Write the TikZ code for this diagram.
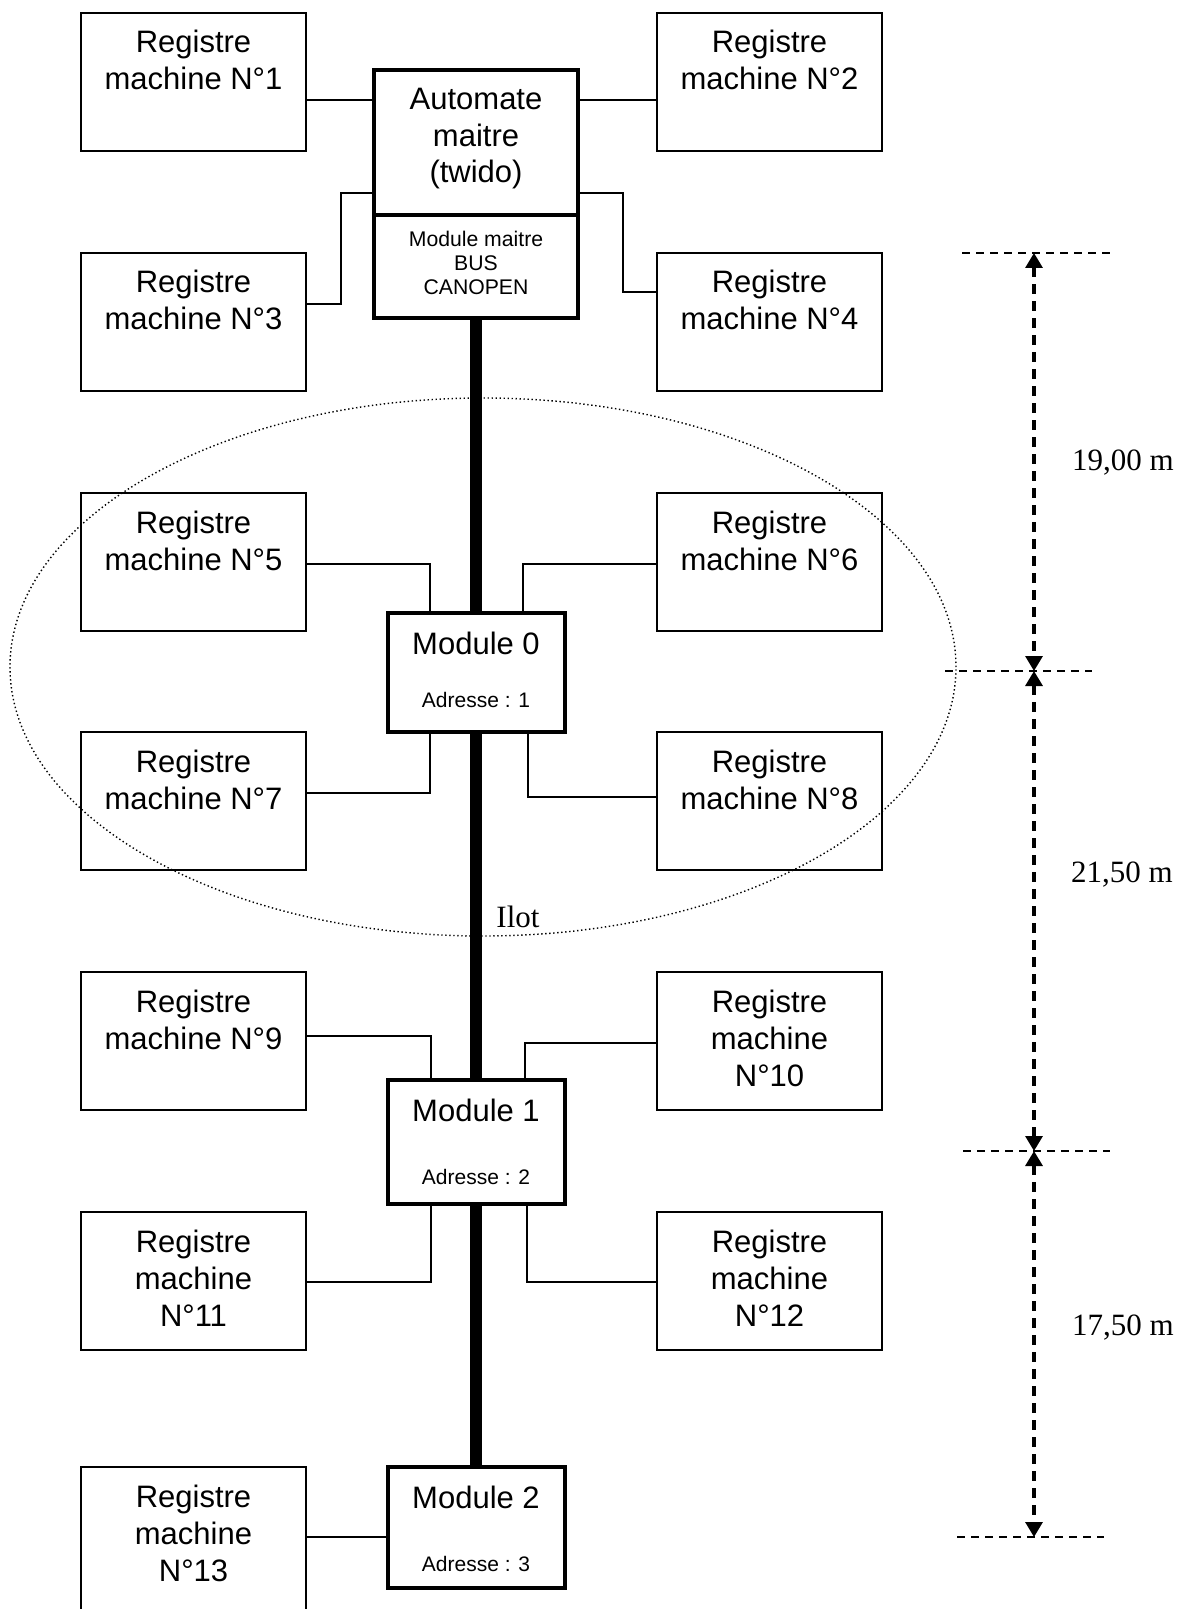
\documentclass[tikz,border=0pt]{standalone}
\usepackage{fontspec}
\setmainfont{Liberation Sans}
\newfontfamily\dimfamily{Liberation Serif}
\usetikzlibrary{arrows.meta}
\newcommand\adrfont{\fontsize{10.5}{12}\selectfont}

\begin{document}
\begin{tikzpicture}[x=0.5pt, y=-0.5pt,
  regbox/.style={draw, line width=1pt, outer sep=0pt, inner sep=0pt, anchor=north west,
    text width=112.5pt, align=flush center, text height=20pt, text depth=49pt,
    font=\fontsize{15.5}{18.5}\selectfont},
  autobox/.style={draw, line width=2pt, outer sep=0pt, inner sep=0pt, anchor=north,
    text width=102pt, align=flush center, text height=20pt, text depth=52.5pt,
    font=\fontsize{15.5}{18.25}\selectfont},
  canbox/.style={autobox, text height=16pt, text depth=35.5pt,
    font=\fontsize{10.6}{12}\selectfont},
  modbox/.style={draw, line width=2pt, outer sep=0pt, inner sep=0pt, anchor=north,
    text width=88.5pt, align=flush center, text height=20.5pt, text depth=40pt,
    font=\fontsize{15.5}{18.5}\selectfont},
  wire/.style={line width=0.75pt},
  bus/.style={line width=6pt},
  ilot/.style={line width=0.7pt, dash pattern=on 0.7pt off 1.3pt},
  dimline/.style={line width=1.2pt, dash pattern=on 4pt off 3pt},
  dimarrow/.style={line width=1.6pt, dash pattern=on 5pt off 3.5pt,
    {Triangle[length=7.5pt,width=8.5pt]}-{Triangle[length=7.5pt,width=8.5pt]}},
  dimlabel/.style={font=\dimfamily\fontsize{15.5}{18}\selectfont, inner sep=0pt}]
\useasboundingbox (0,0) rectangle (1179,1609);
\clip (0,0) rectangle (1179,1609);
\node[regbox] (reg1) at (81,13) {Registre\\machine N°1};
\node[regbox] (reg2) at (657,13) {Registre\\machine N°2};
\node[regbox] (reg3) at (81,253) {Registre\\machine N°3};
\node[regbox] (reg4) at (657,253) {Registre\\machine N°4};
\node[regbox] (reg5) at (81,493) {Registre\\machine N°5};
\node[regbox] (reg6) at (657,493) {Registre\\machine N°6};
\node[regbox] (reg7) at (81,732) {Registre\\machine N°7};
\node[regbox] (reg8) at (657,732) {Registre\\machine N°8};
\node[regbox] (reg9) at (81,972) {Registre\\machine N°9};
\node[regbox] (reg10) at (657,972) {Registre\\machine\\N°10};
\node[regbox] (reg11) at (81,1212) {Registre\\machine\\N°11};
\node[regbox] (reg12) at (657,1212) {Registre\\machine\\N°12};
\node[regbox, text depth=55pt] (reg13) at (81,1467) {Registre\\machine\\N°13};
\node[autobox] (auto) at (476,70) {Automate\\maitre\\(twido)};
\node[canbox] (canopen) at (auto.south) {Module maitre\\BUS\\CANOPEN};
\node[modbox, text depth=39pt] (mod0) at (476,613) {Module 0\\[8pt]{\adrfont Adresse : 1}};
\node[modbox, text depth=41.5pt] (mod1) at (476,1080) {Module 1\\[13pt]{\adrfont Adresse : 2}};
\node[modbox] (mod2) at (476,1467) {Module 2\\[13pt]{\adrfont Adresse : 3}};
\draw[bus] (canopen.south) -- (mod0.north);
\draw[bus] (mod0.south) -- (mod1.north);
\draw[bus] (mod1.south) -- (mod2.north);
\coordinate (b12) at (0,100);
\coordinate (b34) at (0,193);
\coordinate (t3) at (341,304);
\coordinate (t4) at (623,292);
\coordinate (t5) at (430,564);
\coordinate (t6) at (523,564);
\coordinate (t7) at (430,793);
\coordinate (t8) at (528,797);
\coordinate (t9) at (431,1036);
\coordinate (t10) at (525,1043);
\coordinate (t11) at (431,1282);
\coordinate (t12) at (527,1282);
\coordinate (t13) at (0,1537);
\draw[wire] (reg1.east |- b12) -- (auto.west |- b12);
\draw[wire] (reg2.west |- b12) -- (auto.east |- b12);
\draw[wire] (auto.west |- b34) -| (t3) -- (reg3.east |- t3);
\draw[wire] (auto.east |- b34) -| (t4) -- (reg4.west |- t4);
\draw[wire] (reg5.east |- t5) -| (mod0.north -| t5);
\draw[wire] (reg6.west |- t6) -| (mod0.north -| t6);
\draw[wire] (reg7.east |- t7) -| (mod0.south -| t7);
\draw[wire] (reg8.west |- t8) -| (mod0.south -| t8);
\draw[wire] (reg9.east |- t9) -| (mod1.north -| t9);
\draw[wire] (reg10.west |- t10) -| (mod1.north -| t10);
\draw[wire] (reg11.east |- t11) -| (mod1.south -| t11);
\draw[wire] (reg12.west |- t12) -| (mod1.south -| t12);
\draw[wire] (reg13.east |- t13) -- (mod2.west |- t13);
\draw[ilot] (483,667) ellipse [x radius=236.5pt, y radius=134.5pt];
\node[dimlabel] (ilotname) at (518,917) {Ilot};
\coordinate (d0) at (1034,253);
\coordinate (d1) at (1034,671);
\coordinate (d2) at (1034,1151);
\coordinate (d3) at (1034,1537);
\draw[dimline] ([xshift=-36pt]d0) -- ([xshift=38pt]d0);
\draw[dimline] ([xshift=-44.5pt]d1) -- ([xshift=29pt]d1);
\draw[dimline] ([xshift=-35.5pt]d2) -- ([xshift=38pt]d2);
\draw[dimline] ([xshift=-38.5pt]d3) -- ([xshift=35pt]d3);
\draw[dimarrow] (d0) -- (d1);
\draw[dimarrow] (d1) -- (d2);
\draw[dimarrow] (d2) -- (d3);
\node[dimlabel] (len1) at (1123,463) {19,00 m};
\node[dimlabel] (len2) at (1122,875) {21,50 m};
\node[dimlabel] (len3) at (1123,1328) {17,50 m};
\end{tikzpicture}
\end{document}
